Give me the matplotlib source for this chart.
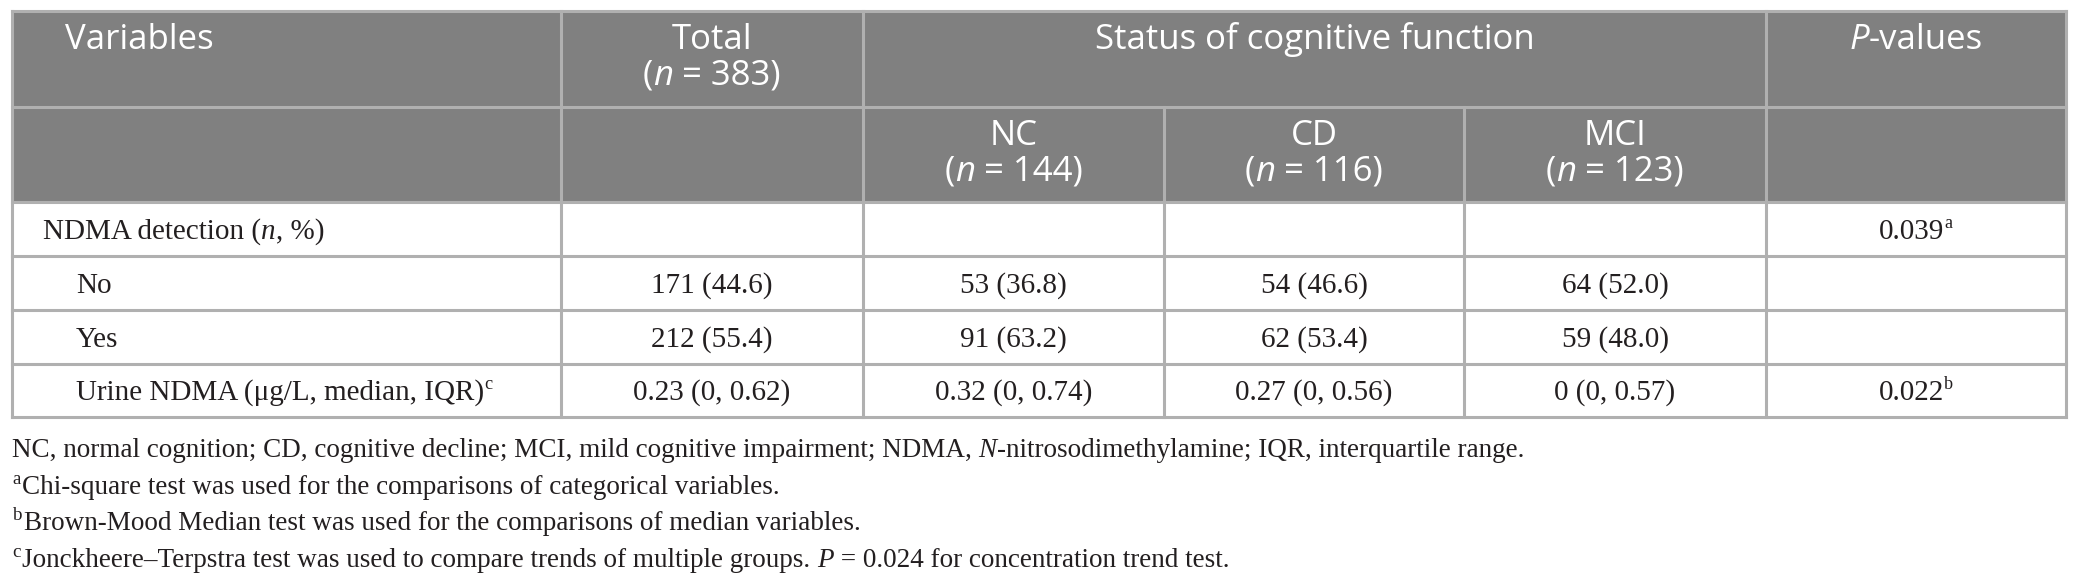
import matplotlib
matplotlib.use("Agg")
import matplotlib.pyplot as plt
from matplotlib.patches import Rectangle

# table content
col_edges = [12, 561, 863, 1164, 1464, 1766, 2066]
row_edges = [11, 107, 202, 256, 310, 364, 417]

row_labels = [
    [("NDMA detection (", ""), ("n", "it"), (", %)", "")],
    [("No", "")],
    [("Yes", "")],
    [("Urine NDMA (\u03bcg/L, median, IQR)", ""), ("c", "sup")],
]
row_indent = [43, 76, 76, 76]
total_vals = ["", "171 (44.6)", "212 (55.4)", "0.23 (0, 0.62)"]
nc_vals = ["", "53 (36.8)", "91 (63.2)", "0.32 (0, 0.74)"]
cd_vals = ["", "54 (46.6)", "62 (53.4)", "0.27 (0, 0.56)"]
mci_vals = ["", "64 (52.0)", "59 (48.0)", "0 (0, 0.57)"]
p_vals = [[("0.039", ""), ("a", "sup")], [], [], [("0.022", ""), ("b", "sup")]]

group_names = ["NC", "CD", "MCI"]
group_n = [144, 116, 123]
total_n = 383

footnotes = [
    [("NC, normal cognition; CD, cognitive decline; MCI, mild cognitive impairment; NDMA, ", ""),
     ("N", "it"), ("-nitrosodimethylamine; IQR, interquartile range.", "")],
    [("a", "sup"), ("Chi-square test was used for the comparisons of categorical variables.", "")],
    [("b", "sup"), ("Brown-Mood Median test was used for the comparisons of median variables.", "")],
    [("c", "sup"), ("Jonckheere\u2013Terpstra test was used to compare trends of multiple groups. ", ""),
     ("P", "it"), (" = 0.024 for concentration trend test.", "")],
]
foot_base = [457, 494, 530, 567]

header_bg = "#808080"
grid_col = "#b0b0b0"
txt_col = "#231f20"
SERIF = "Liberation Serif"
SANS = "Open Sans"

fig = plt.figure(figsize=(20.79, 5.88), dpi=100)
ax = fig.add_axes([0, 0, 1, 1])
ax.set_xlim(0, 2079)
ax.set_ylim(588, 0)
ax.axis("off")
renderer = fig.canvas.get_renderer()


def draw_runs(x, y, parts, ha="left", family=SERIF, size=21, color=txt_col,
              sup_scale=0.62, sup_pad=0):
    # place styled pieces one after another on a common baseline
    px = size * 100 / 72
    items = []
    for s, kind in parts:
        kw = dict(family=family, color=color, va="baseline", ha="left")
        if kind == "it":
            t = ax.text(0, y, s, fontsize=size, style="italic", **kw)
        elif kind == "sup":
            t = ax.text(0, y - px * 0.38, s, fontsize=size * sup_scale, **kw)
        else:
            t = ax.text(0, y, s, fontsize=size, **kw)
        items.append((t, kind))
    widths = [t.get_window_extent(renderer).width + (sup_pad if k == "sup" else 0)
              for t, k in items]
    total = sum(widths)
    x0 = x - total / 2 if ha == "center" else x
    for (t, k), w in zip(items, widths):
        t.set_x(x0)
        x0 += w


# header background
ax.add_patch(Rectangle((col_edges[0], row_edges[0]), col_edges[-1] - col_edges[0],
                       row_edges[2] - row_edges[0], facecolor=header_bg, edgecolor="none"))

lw = 2.2
for yy in row_edges:
    ax.plot([col_edges[0], col_edges[-1]], [yy, yy], color=grid_col, lw=lw)
for i, xx in enumerate(col_edges):
    top = row_edges[1] if i in (3, 4) else row_edges[0]
    ax.plot([xx, xx], [top, row_edges[-1]], color=grid_col, lw=lw)

# header text
hs = 25
b1, b2 = row_edges[0] + 38, row_edges[0] + 74
b3, b4 = row_edges[1] + 38, row_edges[1] + 74
ax.text(65, b1, "Variables", family=SANS, fontsize=hs, color="white", va="baseline", ha="left")
cx_total = (col_edges[1] + col_edges[2]) / 2
ax.text(cx_total, b1, "Total", family=SANS, fontsize=hs, color="white", va="baseline", ha="center")
draw_runs(cx_total, b2, [("(", ""), ("n", "it"), (" = %d)" % total_n, "")], ha="center",
          family=SANS, size=hs, color="white")
ax.text((col_edges[2] + col_edges[5]) / 2, b1, "Status of cognitive function", family=SANS,
        fontsize=hs, color="white", va="baseline", ha="center")
draw_runs((col_edges[5] + col_edges[6]) / 2, b1, [("P", "it"), ("-values", "")], ha="center",
          family=SANS, size=hs, color="white")
for j, (name, n) in enumerate(zip(group_names, group_n)):
    cx = (col_edges[2 + j] + col_edges[3 + j]) / 2
    ax.text(cx, b3, name, family=SANS, fontsize=hs, color="white", va="baseline", ha="center")
    draw_runs(cx, b4, [("(", ""), ("n", "it"), (" = %d)" % n, "")], ha="center",
              family=SANS, size=hs, color="white")

# body
bs = 21
for i in range(len(row_labels)):
    base = row_edges[3 + i] - 17
    draw_runs(row_indent[i], base, row_labels[i], size=bs)
    for j, vals in enumerate([total_vals, nc_vals, cd_vals, mci_vals]):
        cx = (col_edges[1 + j] + col_edges[2 + j]) / 2
        if vals[i]:
            ax.text(cx, base, vals[i], family=SERIF, fontsize=bs, color=txt_col,
                    va="baseline", ha="center")
    if p_vals[i]:
        draw_runs((col_edges[5] + col_edges[6]) / 2, base, p_vals[i], ha="center", size=bs)

# footnotes
fs = 19.5
for parts, yy in zip(footnotes, foot_base):
    draw_runs(12, yy, parts, size=fs, sup_scale=0.7, sup_pad=2)

fig.savefig("out.png", dpi=100)
